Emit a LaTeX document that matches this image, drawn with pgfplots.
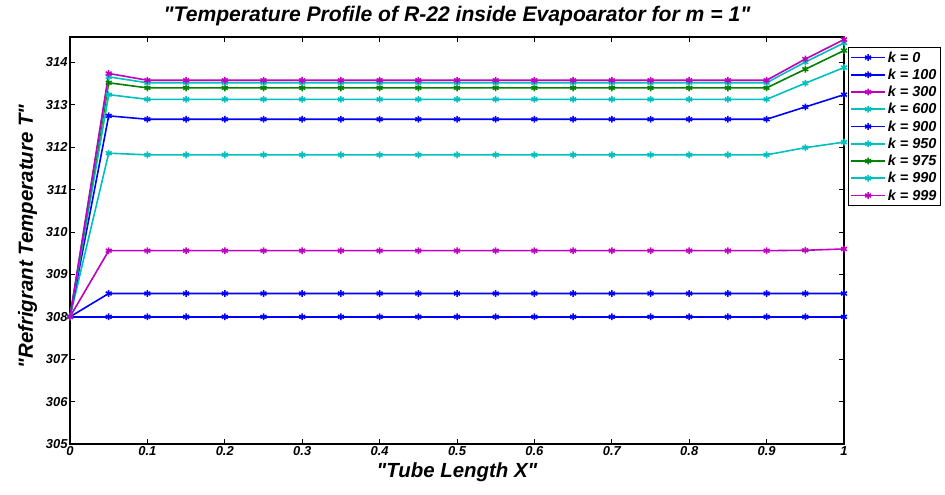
\documentclass[border=0pt]{standalone}
\usepackage{fontspec}
\setmainfont{Liberation Sans}
\usepackage{pgfplots}
\pgfplotsset{compat=1.18}
\usepackage{pgfplotstable}

\definecolor{mblue}{rgb}{0,0,1}
\definecolor{mgreen}{rgb}{0,0.5,0}
\definecolor{mcyan}{rgb}{0,0.75,0.75}
\definecolor{mmag}{rgb}{0.75,0,0.75}

\pgfplotstableread{
x    k0  k100   k300   k600   k900   k950   k975   k990   k999
0.00 308 308.00 308.00 308.00 308.00 308.00 308.00 308.00 308.00
0.05 308 308.55 309.56 311.86 312.74 313.24 313.52 313.66 313.74
0.10 308 308.55 309.56 311.82 312.66 313.13 313.40 313.52 313.58
0.15 308 308.55 309.56 311.82 312.66 313.13 313.40 313.52 313.58
0.20 308 308.55 309.56 311.82 312.66 313.13 313.40 313.52 313.58
0.25 308 308.55 309.56 311.82 312.66 313.13 313.40 313.52 313.58
0.30 308 308.55 309.56 311.82 312.66 313.13 313.40 313.52 313.58
0.35 308 308.55 309.56 311.82 312.66 313.13 313.40 313.52 313.58
0.40 308 308.55 309.56 311.82 312.66 313.13 313.40 313.52 313.58
0.45 308 308.55 309.56 311.82 312.66 313.13 313.40 313.52 313.58
0.50 308 308.55 309.56 311.82 312.66 313.13 313.40 313.52 313.58
0.55 308 308.55 309.56 311.82 312.66 313.13 313.40 313.52 313.58
0.60 308 308.55 309.56 311.82 312.66 313.13 313.40 313.52 313.58
0.65 308 308.55 309.56 311.82 312.66 313.13 313.40 313.52 313.58
0.70 308 308.55 309.56 311.82 312.66 313.13 313.40 313.52 313.58
0.75 308 308.55 309.56 311.82 312.66 313.13 313.40 313.52 313.58
0.80 308 308.55 309.56 311.82 312.66 313.13 313.40 313.52 313.58
0.85 308 308.55 309.56 311.82 312.66 313.13 313.40 313.52 313.58
0.90 308 308.55 309.56 311.82 312.66 313.13 313.40 313.52 313.58
0.95 308 308.55 309.57 311.99 312.95 313.51 313.84 314.01 314.08
1.00 308 308.55 309.60 312.12 313.24 313.88 314.28 314.46 314.54
}\data

\begin{document}
\begin{tikzpicture}
\useasboundingbox (-70bp,-51bp) rectangle (875bp,444bp);
\begin{axis}[
  at={(0,0)}, anchor=south west,
  scale only axis, width=774bp, height=407bp,
  xmin=0, xmax=1, ymin=305, ymax=314.6,
  xtick={0,0.1,0.2,0.3,0.4,0.5,0.6,0.7,0.8,0.9,1},
  xticklabels={0,0.1,0.2,0.3,0.4,0.5,0.6,0.7,0.8,0.9,1},
  ytick={305,306,307,308,309,310,311,312,313,314},
  yticklabels={305,306,307,308,309,310,311,312,313,314},
  tick align=inside,
  major tick length=5bp,
  every tick/.style={black, line width=0.8bp},
  axis line style={line width=1.1bp},
  tick label style={font=\fontsize{13}{13}\selectfont\bfseries\itshape},
  xticklabel style={yshift=1bp},
  yticklabel style={xshift=1bp},
  title={\textquotedbl Temperature Profile of R-22 inside Evapoarator for m = 1\textquotedbl},
  title style={font=\fontsize{21.2}{21.2}\selectfont\bfseries\itshape, at={(axis description cs:0.5,1)}, anchor=base, yshift=10bp},
  xlabel={\textquotedbl Tube Length X\textquotedbl},
  xlabel style={font=\fontsize{20.5}{20.5}\selectfont\bfseries\itshape, at={(axis description cs:0.5,0)}, anchor=base, yshift=-33bp},
  ylabel={\textquotedbl Refrigrant Temperature T\textquotedbl},
  ylabel style={font=\fontsize{20.5}{20.5}\selectfont\bfseries\itshape, at={(axis description cs:-0.0478,0.51)}, anchor=base},
  legend style={at={(axis description cs:1.005,0.975)}, anchor=north west,
    font=\fontsize{14.5}{14.5}\selectfont\bfseries\itshape, draw=black, line width=0.8bp,
    row sep=1.3bp, inner sep=2bp, cells={anchor=west}},
  legend cell align=left,
  legend image code/.code={\draw[mark repeat=2,mark phase=2] plot coordinates {(0bp,0bp) (17bp,0bp) (34bp,0bp)};},
  every axis plot/.append style={line width=1.6bp, mark=asterisk, mark size=3.4bp, mark options={solid, line width=1.5bp}},
]
\addplot[mblue]  table[x=x,y=k0]   {\data}; \addlegendentry{k = 0}
\addplot[mblue]  table[x=x,y=k100] {\data}; \addlegendentry{k = 100}
\addplot[mmag]   table[x=x,y=k300] {\data}; \addlegendentry{k = 300}
\addplot[mcyan]  table[x=x,y=k600] {\data}; \addlegendentry{k = 600}
\addplot[mblue]  table[x=x,y=k900] {\data}; \addlegendentry{k = 900}
\addplot[mcyan]  table[x=x,y=k950] {\data}; \addlegendentry{k = 950}
\addplot[mgreen] table[x=x,y=k975] {\data}; \addlegendentry{k = 975}
\addplot[mcyan]  table[x=x,y=k990] {\data}; \addlegendentry{k = 990}
\addplot[mmag]   table[x=x,y=k999] {\data}; \addlegendentry{k = 999}
\end{axis}
\end{tikzpicture}
\end{document}
